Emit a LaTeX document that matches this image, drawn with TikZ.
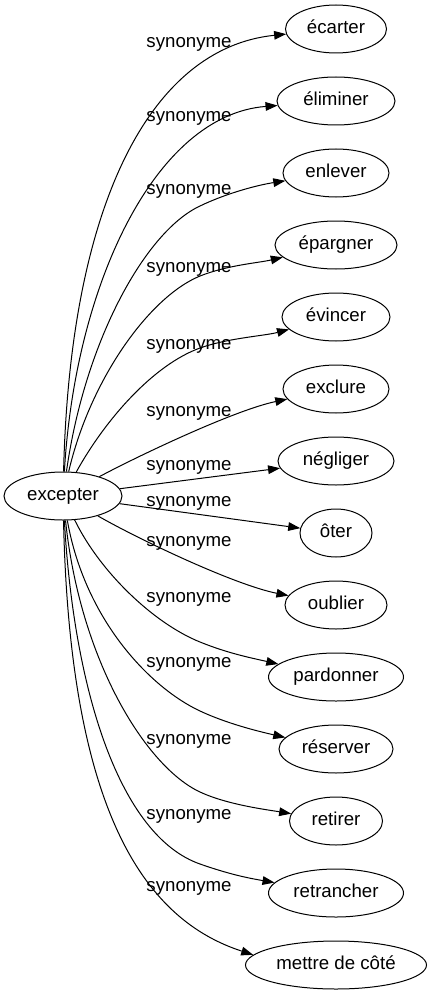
\documentclass[tikz,border=0pt]{standalone}
\usepackage{fontspec}
\setmainfont{Liberation Sans}
\usetikzlibrary{shapes.geometric,arrows.meta}
\begin{document}
\begin{tikzpicture}[x=0.75pt,y=-0.75pt,
  word/.style={ellipse,draw,line width=0.75pt,inner sep=0pt,minimum height=36pt,
    font=\fontsize{14pt}{16pt}\selectfont,text height=7.3pt,text depth=0pt},
  lab/.style={inner sep=0pt,font=\fontsize{14pt}{16pt}\selectfont,text height=7.3pt,text depth=0pt},
  syn/.style={line width=0.75pt,-{Triangle[length=9pt,width=6.5pt]}}]
\useasboundingbox (0,0) rectangle (431,995);
% nodes
\node[word,minimum width=88.5pt] (ex) at (63,496) {excepter};
\node[word,minimum width=75.75pt] (n1) at (336,29) {écarter};
\node[word,minimum width=88.5pt] (n2) at (336,101) {éliminer};
\node[word,minimum width=79.5pt] (n3) at (336,173) {enlever};
\node[word,minimum width=91.5pt] (n4) at (336,245) {épargner};
\node[word,minimum width=81pt] (n5) at (336,317) {évincer};
\node[word,minimum width=79.5pt] (n6) at (336,389) {exclure};
\node[word,minimum width=87pt] (n7) at (336,461) {négliger};
\node[word,minimum width=54pt] (n8) at (336,533) {ôter};
\node[word,minimum width=76.5pt] (n9) at (336,605) {oublier};
\node[word,minimum width=101.25pt] (n10) at (336,677) {pardonner};
\node[word,minimum width=85.5pt] (n11) at (336,749) {réserver};
\node[word,minimum width=69.75pt] (n12) at (336,821) {retirer};
\node[word,minimum width=101.25pt] (n13) at (336,893) {retrancher};
\node[word,minimum width=135.75pt] (n14) at (336,965) {mettre de côté};
% labels
\node[lab] (l1) at (189,43) {synonyme};
\node[lab] (l2) at (189,117) {synonyme};
\node[lab] (l3) at (189,190) {synonyme};
\node[lab] (l4) at (189,268) {synonyme};
\node[lab] (l5) at (189,345) {synonyme};
\node[lab] (l6) at (189,412) {synonyme};
\node[lab] (l7) at (189,466) {synonyme};
\node[lab] (l8) at (189,502) {synonyme};
\node[lab] (l9) at (189,542) {synonyme};
\node[lab] (l10) at (189,598) {synonyme};
\node[lab] (l11) at (189,663) {synonyme};
\node[lab] (l12) at (189,740) {synonyme};
\node[lab] (l13) at (189,815) {synonyme};
\node[lab] (l14) at (189,887) {synonyme};
% mid coordinates
\coordinate (m3) at (200,206);
\coordinate (m4) at (200,276);
\coordinate (m5) at (200,348);
\coordinate (m10) at (200,642);
\coordinate (m11) at (200,711);
\coordinate (m12) at (200,792);
\coordinate (m13) at (200,864);
% edges
\draw[syn] (ex) .. controls (70,205) and (150,48) .. (n1);
\draw[syn] (ex) .. controls (75,285) and (155,115) .. (n2);
\draw[syn] (ex) .. controls (85,340) and (146,231) .. (m3) .. controls (227,193) and (258,185) .. (n3);
\draw[syn] (ex) .. controls (90,380) and (149,297) .. (m4) .. controls (228,265) and (258,263) .. (n4);
\draw[syn] (ex) .. controls (105,420) and (153,365) .. (m5) .. controls (228,338) and (264,336) .. (n5);
\draw[syn] (ex) .. controls (140,455) and (235,410) .. (n6);
\draw[syn] (ex) -- (n7);
\draw[syn] (ex) -- (n8);
\draw[syn] (ex) .. controls (140,540) and (235,585) .. (n9);
\draw[syn] (ex) .. controls (100,572) and (153.6,623.3) .. (m10) .. controls (227.8,653.3) and (251.5,658) .. (n10);
\draw[syn] (ex) .. controls (85,620) and (150.2,687.7) .. (m11) .. controls (227.2,723.7) and (258.6,731.4) .. (n11);
\draw[syn] (ex) .. controls (80,660) and (145.6,766.6) .. (m12) .. controls (227.2,804.7) and (267.5,809.8) .. (n12);
\draw[syn] (ex) .. controls (74,692) and (120,836) .. (m13) .. controls (228.3,873.9) and (246.5,877.8) .. (n13);
\draw[syn] (ex) .. controls (70,820) and (149,921) .. (n14.173);
\end{tikzpicture}
\end{document}
